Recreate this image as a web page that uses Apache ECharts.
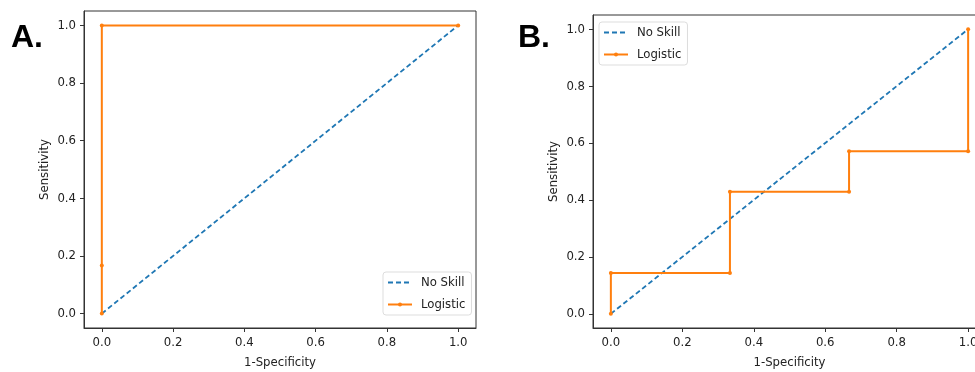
<!DOCTYPE html>
<html><head><meta charset="utf-8">
<script src="https://cdn.jsdelivr.net/npm/echarts@6/dist/echarts.min.js"></script>
<style>html,body{margin:0;padding:0;background:#fff}#c{width:975px;height:372px}</style>
</head><body><div id="c"></div>
<script>
var tickValues = [0, 0.2, 0.4, 0.6, 0.8, 1.0];
var noSkillX = [0, 1];
var noSkillY = [0, 1];
var aFpr = [0, 0, 0, 1];
var aTpr = [0, 0.1667, 1, 1];
var bFpr = [0, 0, 0.3333, 0.3333, 0.6667, 0.6667, 1, 1];
var bTpr = [0, 0.1429, 0.1429, 0.4286, 0.4286, 0.5714, 0.5714, 1];
var seriesNames = ['No Skill', 'Logistic'];
var panelLabels = ['A.', 'B.'];

function zip(xs, ys) { return xs.map(function (x, i) { return [x, ys[i]]; }); }

var FONT = 'DejaVu Sans Condensed, DejaVu Sans, sans-serif';
var BLUE = '#1f77b4', ORANGE = '#ff7f0e';

function xAx(gi) {
  return {
    type: 'value', gridIndex: gi, min: -0.05, max: 1.05,
    name: '1-Specificity', nameLocation: 'middle', nameGap: 28,
    nameTextStyle: { fontFamily: FONT, fontSize: 13, color: '#222' },
    axisLine: { show: true, onZero: false, lineStyle: { color: '#333', width: 1 } },
    axisTick: { show: true, length: 4, customValues: tickValues, lineStyle: { color: '#333' } },
    axisLabel: { customValues: tickValues, margin: 8, fontFamily: FONT, fontSize: 13, color: '#222',
      formatter: function (v) { return v.toFixed(1); } },
    splitLine: { show: false }
  };
}
function yAx(gi) {
  return {
    type: 'value', gridIndex: gi, min: -0.05, max: 1.05,
    name: 'Sensitivity', nameLocation: 'middle', nameGap: 33,
    nameTextStyle: { fontFamily: FONT, fontSize: 13, color: '#222' },
    axisLine: { show: true, onZero: false, lineStyle: { color: '#333', width: 1 } },
    axisTick: { show: true, length: 4, customValues: tickValues, lineStyle: { color: '#333' } },
    axisLabel: { customValues: tickValues, margin: 8, fontFamily: FONT, fontSize: 13, color: '#222',
      formatter: function (v) { return v.toFixed(1); } },
    splitLine: { show: false }
  };
}
function noSkill(gi) {
  return { name: seriesNames[0], type: 'line', xAxisIndex: gi, yAxisIndex: gi,
    data: zip(noSkillX, noSkillY), symbol: 'none', animation: false,
    lineStyle: { color: BLUE, width: 1.8, type: [5, 3] }, itemStyle: { color: BLUE } };
}
function logistic(gi, xs, ys) {
  return { name: seriesNames[1], type: 'line', xAxisIndex: gi, yAxisIndex: gi,
    data: zip(xs, ys), symbol: 'circle', symbolSize: 4, showAllSymbol: true, animation: false,
    lineStyle: { color: ORANGE, width: 2 }, itemStyle: { color: ORANGE } };
}
function legend(pos) {
  return Object.assign({
    orient: 'vertical', itemWidth: 24, itemHeight: 5, itemGap: 9,
    backgroundColor: '#fff', borderColor: '#ddd', borderWidth: 1, borderRadius: 3,
    padding: [4, 6, 4, 4],
    textStyle: { fontFamily: FONT, fontSize: 13, color: '#222', padding: [0, 0, 0, 4] },
    data: [
      { name: seriesNames[0], itemStyle: { opacity: 0 } },
      { name: seriesNames[1] }
    ]
  }, pos);
}

var gridBase = { show: true, borderColor: '#333', borderWidth: 1, backgroundColor: 'transparent', outerBoundsMode: 'none', containLabel: false };
var chart = echarts.init(document.getElementById('c'), null, { renderer: 'canvas' });
chart.setOption({
  backgroundColor: '#fff',
  animation: false,
  grid: [
    Object.assign({ left: 84, top: 11, width: 392, height: 317 }, gridBase),
    Object.assign({ left: 593, top: 15, width: 393, height: 313 }, gridBase)
  ],
  xAxis: [xAx(0), xAx(1)],
  yAxis: [yAx(0), yAx(1)],
  legend: [
    legend({ left: 383, top: 272 }),
    legend({ left: 599, top: 22 })
  ],
  series: [noSkill(0), logistic(0, aFpr, aTpr), noSkill(1), logistic(1, bFpr, bTpr)],
  graphic: [
    { type: 'text', left: 11, top: 22, style: { text: panelLabels[0], font: 'bold 32px "Liberation Sans", Arial, sans-serif', fill: '#000' } },
    { type: 'text', left: 518, top: 22, style: { text: panelLabels[1], font: 'bold 32px "Liberation Sans", Arial, sans-serif', fill: '#000' } }
  ]
});
</script></body></html>
